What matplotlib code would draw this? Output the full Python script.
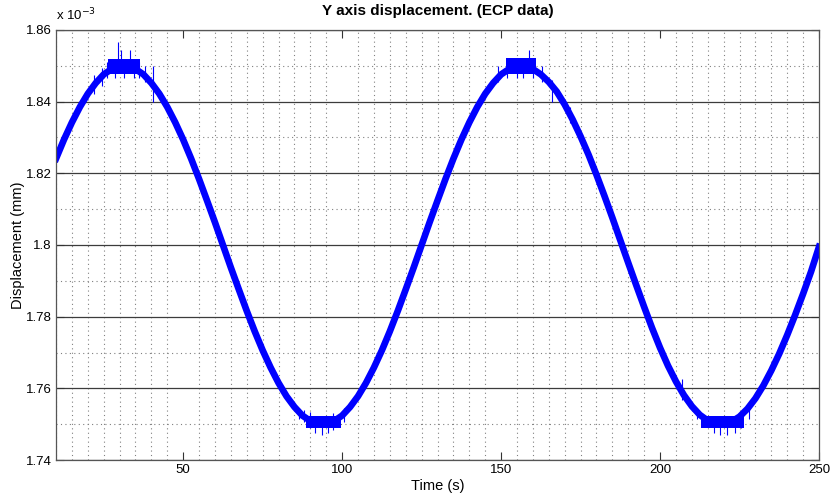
import numpy as np
import matplotlib
matplotlib.use("Agg")
from matplotlib import pyplot as plt
from matplotlib.ticker import MultipleLocator

plt.rcParams['font.family'] = ['Liberation Sans', 'DejaVu Sans']

# время, с (шаг 2.5 с) и перемещение, x 1e-3 мм
time_s = np.arange(10, 250.1, 2.5)
disp = [
    1.8241, 1.8294, 1.8342, 1.8385, 1.8422, 1.8452, 1.8476, 1.8491, 1.8499, 1.8499,
    1.8491, 1.8476, 1.8452, 1.8422, 1.8385, 1.8342, 1.8294, 1.8241, 1.8184, 1.8124,
    1.8063, 1.8000, 1.7937, 1.7876, 1.7816, 1.7759, 1.7706, 1.7658, 1.7615, 1.7578,
    1.7548, 1.7524, 1.7509, 1.7501, 1.7501, 1.7509, 1.7524, 1.7548, 1.7578, 1.7615,
    1.7658, 1.7706, 1.7759, 1.7816, 1.7876, 1.7937, 1.8000, 1.8063, 1.8124, 1.8184,
    1.8241, 1.8294, 1.8342, 1.8385, 1.8422, 1.8452, 1.8476, 1.8491, 1.8499, 1.8499,
    1.8491, 1.8476, 1.8455, 1.8428, 1.8392, 1.8350, 1.8303, 1.8252, 1.8196, 1.8137,
    1.8076, 1.8013, 1.7950, 1.7888, 1.7827, 1.7768, 1.7713, 1.7663, 1.7619, 1.7581,
    1.7550, 1.7526, 1.7510, 1.7502, 1.7501, 1.7507, 1.7521, 1.7543, 1.7572, 1.7608,
    1.7650, 1.7697, 1.7749, 1.7805, 1.7864, 1.7926, 1.7995,
]

# плато на экстремумах (сигнал скачет между двумя уровнями)
plateau_t0 = [26.5, 88.5, 151.5, 213]
plateau_t1 = [36.5, 99.5, 161, 226.5]
plateau_lo = [1.8476, 1.7490, 1.8476, 1.7490]
plateau_hi = [1.8520, 1.7522, 1.8521, 1.7522]

# выбросы (шум датчика)
glitch_t = [22, 24.5, 26, 28.5, 29.5, 30.5, 31.5, 33.3, 34.5, 36, 38, 40.5,
            86.5, 88, 90, 91.5, 93.6, 95.5, 97, 100.5,
            149, 152, 155, 157, 158.7, 160, 163, 166, 171.6,
            207, 211.5, 217, 219, 221, 223.5, 225.5, 228]
glitch_lo = [1.842, 1.8445, 1.8465, 1.8465, 1.849, 1.849, 1.8466, 1.849, 1.8466, 1.8466, 1.8455, 1.840,
             1.7515, 1.7505, 1.749, 1.7475, 1.747, 1.7475, 1.7485, 1.7505,
             1.8455, 1.8466, 1.8466, 1.8466, 1.849, 1.8466, 1.8455, 1.840, 1.834,
             1.7568, 1.7515, 1.7475, 1.747, 1.747, 1.7475, 1.749, 1.7515]
glitch_hi = [1.8475, 1.8495, 1.851, 1.852, 1.8566, 1.8544, 1.851, 1.8544, 1.851, 1.851, 1.850, 1.850,
             1.7545, 1.754, 1.7535, 1.752, 1.752, 1.751, 1.753, 1.7545,
             1.850, 1.851, 1.852, 1.851, 1.8544, 1.851, 1.850, 1.846, 1.8385,
             1.7627, 1.7545, 1.752, 1.752, 1.751, 1.752, 1.7535, 1.7555]

fig = plt.figure(figsize=(8.31, 4.94), dpi=100)
ax = fig.add_axes([0.0674, 0.0688, 0.9182, 0.8705])

for t0, t1, lo, hi in zip(plateau_t0, plateau_t1, plateau_lo, plateau_hi):
    ax.fill_between([t0, t1], lo, hi, color='#0000ff', lw=0)
ax.vlines(glitch_t, glitch_lo, glitch_hi, color='#0000ff', lw=0.8)
ax.plot(time_s, disp, color='#0000ff', lw=4.8, solid_joinstyle='miter')

ax.set_xlim(10, 250)
ax.set_ylim(1.74, 1.86)
ax.xaxis.set_major_locator(MultipleLocator(50))
ax.xaxis.set_minor_locator(MultipleLocator(5))
ax.yaxis.set_minor_locator(MultipleLocator(0.01))
ax.set_yticks([1.74, 1.76, 1.78, 1.80, 1.82, 1.84, 1.86])
ax.set_yticklabels(['1.74', '1.76', '1.78', '1.8', '1.82', '1.84', '1.86'])

ax.grid(True, which='major', axis='y', color='#3c3c3c', lw=0.9, ls='-')
ax.grid(True, which='minor', axis='both', color='#808080', lw=0.8, ls=(0, (1, 3)))
ax.set_axisbelow(True)

ax.tick_params(which='major', direction='in', length=6, width=0.8, top=True, right=True,
               labelsize=9.5, colors='#333333', labelcolor='black', pad=3)
ax.tick_params(which='minor', length=0)
for s in ax.spines.values():
    s.set_color('#555555')
    s.set_linewidth(0.9)

ax.set_title('Y axis displacement. (ECP data)', fontsize=11, fontweight='bold', pad=11)
ax.set_xlabel('Time (s)', fontsize=10.5, labelpad=2)
ax.set_ylabel('Displacement (mm)', fontsize=10.5, labelpad=1)
ax.text(0.0, 1.015, r'x 10$^{-3}$', transform=ax.transAxes, fontsize=9.5, va='bottom', ha='left')

fig.savefig('out.png', dpi=100)
